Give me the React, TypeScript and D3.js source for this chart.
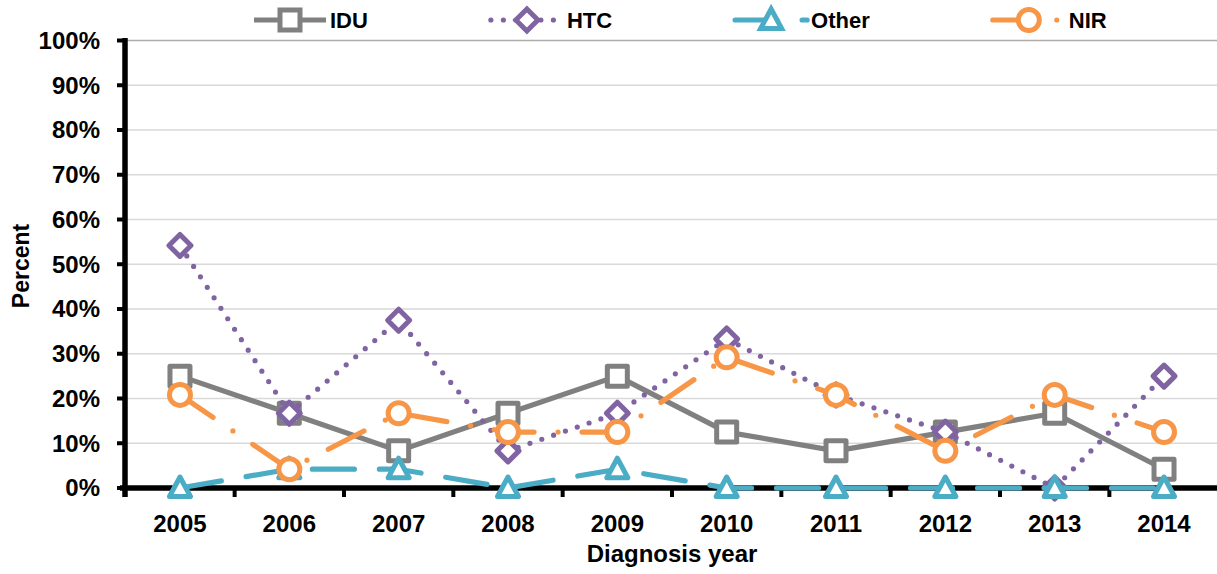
import React, { useEffect, useRef } from "react";
import * as d3 from "d3";

const years = ["2005", "2006", "2007", "2008", "2009", "2010", "2011", "2012", "2013", "2014"];
const idu = [25, 16.7, 8.3, 16.7, 25, 12.5, 8.3, 12.5, 16.7, 4.2];
const htc = [54.2, 16.7, 37.5, 8.3, 16.7, 33.3, 20.8, 12.5, 0, 25];
const other = [0, 4.2, 4.2, 0, 4.2, 0, 0, 0, 0, 0];
const nir = [20.8, 4.2, 16.7, 12.5, 12.5, 29.2, 20.8, 8.3, 20.8, 12.5];
const yTicks = [0, 10, 20, 30, 40, 50, 60, 70, 80, 90, 100];

const series = [
  { name: "IDU", values: idu, color: "#808080", dash: null, marker: "square" },
  { name: "HTC", values: htc, color: "#8064A2", dash: "0 12.5", marker: "diamond" },
  { name: "Other", values: other, color: "#4BACC6", dash: "42 25", marker: "triangle" },
  { name: "NIR", values: nir, color: "#F79646", dash: "40 24 0 24", marker: "circle" },
];

const W = 1217;
const H = 574;
const FONT = "'Liberation Sans', Arial, sans-serif";

const markerPath = (type) => {
  if (type === "square") return "M-10,-10H10V10H-10Z";
  if (type === "diamond") return "M0,-11L11,0L0,11L-11,0Z";
  if (type === "triangle") return "M0,-11L10.5,8.5L-10.5,8.5Z";
  return d3.arc()({ innerRadius: 0, outerRadius: 10.5, startAngle: 0, endAngle: 2 * Math.PI });
};

export default function App() {
  const svgRef = useRef(null);

  useEffect(() => {
    const svg = d3.select(svgRef.current);
    svg.selectAll("*").remove();

    const x = d3.scaleBand().domain(years).range([125.3, 1218.7]);
    const cx = (d) => x(d) + x.bandwidth() / 2;
    const y = d3.scaleLinear().domain([0, 100]).range([488, 40.5]);

    // gridlines
    svg
      .append("g")
      .selectAll("line")
      .data(yTicks.filter((t) => t > 0))
      .join("line")
      .attr("x1", 125)
      .attr("x2", W)
      .attr("y1", (d) => y(d))
      .attr("y2", (d) => y(d))
      .attr("stroke", (d) => (d === 100 ? "#ADADAD" : "#D9D9D9"))
      .attr("stroke-width", 1.5);

    // axes (under the series, like the original)
    const axis = svg.append("g").attr("stroke", "black");
    axis.append("line").attr("x1", 125).attr("x2", 125).attr("y1", 38).attr("y2", 497).attr("stroke-width", 5.5);
    axis.append("line").attr("x1", 120).attr("x2", W).attr("y1", 488).attr("y2", 488).attr("stroke-width", 5.5);
    axis
      .selectAll("line.yt")
      .data(yTicks)
      .join("line")
      .attr("class", "yt")
      .attr("x1", 117)
      .attr("x2", 125)
      .attr("y1", (d) => y(d))
      .attr("y2", (d) => y(d))
      .attr("stroke-width", 4);
    axis
      .selectAll("line.xt")
      .data(years.slice(1))
      .join("line")
      .attr("class", "xt")
      .attr("x1", (d) => x(d))
      .attr("x2", (d) => x(d))
      .attr("y1", 488)
      .attr("y2", 497)
      .attr("stroke-width", 4);

    // series, drawn in order so later ones sit on top
    series.forEach((s) => {
      const g = svg.append("g");
      const line = d3
        .line()
        .x((_, i) => cx(years[i]))
        .y((d) => y(d));
      g.append("path")
        .attr("d", line(s.values))
        .attr("fill", "none")
        .attr("stroke", s.color)
        .attr("stroke-width", 5.2)
        .attr("stroke-linecap", s.dash ? "round" : "butt")
        .attr("stroke-linejoin", "round")
        .attr("stroke-dasharray", s.dash);
      g.selectAll("path.m")
        .data(s.values)
        .join("path")
        .attr("class", "m")
        .attr("transform", (d, i) => `translate(${cx(years[i])},${y(d)})`)
        .attr("d", markerPath(s.marker))
        .attr("fill", "white")
        .attr("stroke", s.color)
        .attr("stroke-width", 5)
        .attr("stroke-linejoin", "round");
    });

    const text = svg.append("g").attr("font-family", FONT).attr("font-weight", "bold").attr("fill", "black");
    text
      .selectAll("text.yl")
      .data(yTicks)
      .join("text")
      .attr("class", "yl")
      .attr("x", 100)
      .attr("y", (d) => y(d))
      .attr("dy", "0.35em")
      .attr("text-anchor", "end")
      .attr("font-size", 24)
      .text((d) => `${d}%`);
    text
      .selectAll("text.xl")
      .data(years)
      .join("text")
      .attr("class", "xl")
      .attr("x", (d) => cx(d))
      .attr("y", 532)
      .attr("text-anchor", "middle")
      .attr("font-size", 24)
      .text((d) => d);
    text
      .append("text")
      .attr("x", 672)
      .attr("y", 562)
      .attr("text-anchor", "middle")
      .attr("font-size", 24)
      .text("Diagnosis year");
    text
      .append("text")
      .attr("transform", "translate(29,266) rotate(-90)")
      .attr("text-anchor", "middle")
      .attr("font-size", 23)
      .text("Percent");

    // legend
    let lx = 254;
    const ly = 20;
    series.forEach((s) => {
      const g = svg.append("g");
      g.append("line")
        .attr("x1", lx)
        .attr("x2", lx + 72)
        .attr("y1", ly)
        .attr("y2", ly)
        .attr("stroke", s.color)
        .attr("stroke-width", 5.2)
        .attr("stroke-linecap", s.dash ? "round" : "butt")
        .attr("stroke-dasharray", s.dash);
      g.append("path")
        .attr("transform", `translate(${lx + 36},${ly})`)
        .attr("d", markerPath(s.marker))
        .attr("fill", "white")
        .attr("stroke", s.color)
        .attr("stroke-width", 5);
      const t = g
        .append("text")
        .attr("x", lx + 76)
        .attr("y", ly + 8)
        .attr("font-family", FONT)
        .attr("font-weight", "bold")
        .attr("font-size", 22)
        .text(s.name);
      lx += 76 + t.node().getComputedTextLength() + 123;
    });
  }, []);

  return (
    <svg
      ref={svgRef}
      width={W}
      height={H}
      style={{ position: "absolute", left: 0, top: 0, background: "white" }}
    />
  );
}
